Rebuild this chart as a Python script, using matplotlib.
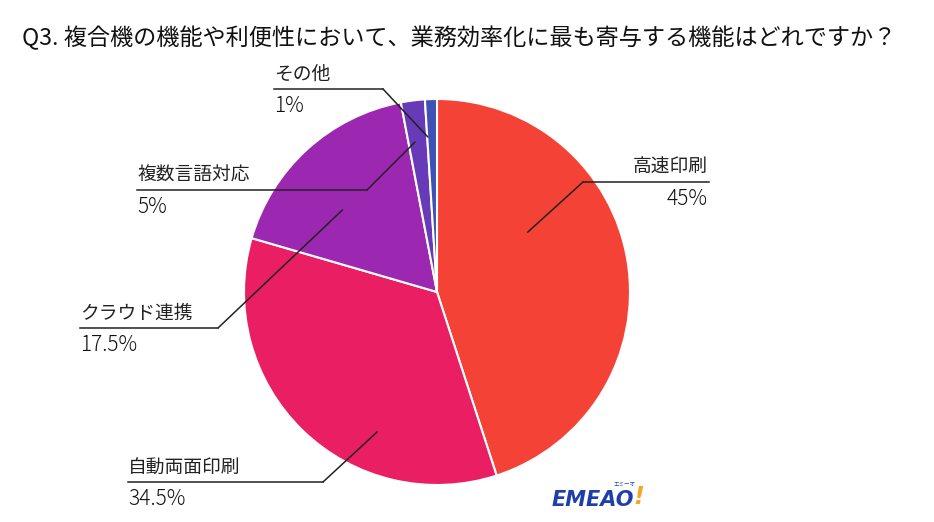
"""Pie chart: Q3 survey on the most useful multifunction-printer feature."""

import matplotlib.pyplot as plt
from matplotlib.lines import Line2D

plt.rcParams["font.family"] = ["Noto Sans CJK JP", "DejaVu Sans"]

TITLE = "Q3. 複合機の機能や利便性において、業務効率化に最も寄与する機能はどれですか？"

# slice order: clockwise from 12 o'clock
categories = ["高速印刷", "自動両面印刷", "クラウド連携", "複数言語対応", "その他"]
shares = [45, 34.5, 17.5, 2, 1]              # slice sizes as drawn
share_labels = ["45%", "34.5%", "17.5%", "5%", "1%"]  # text printed beside each label
colors = ["#f44336", "#e91e63", "#9c27b0", "#673ab7", "#3f51b5"]

W, H = 934, 522

# label layout in figure pixels (top-left origin): text x, underline y,
# underline start/end x, leader anchor inside the pie (unit radius), alignment
LAYOUT = [
    dict(x=708, y=182, x0=583, x1=709, anchor=(0.47, 0.31), ha="right"),
    dict(x=128, y=482, x0=128, x1=323, anchor=(-0.31, -0.725), ha="left"),
    dict(x=80, y=328, x0=80, x1=218, anchor=(-0.49, 0.425), ha="left"),
    dict(x=137, y=190, x0=137, x1=367, anchor=(-0.114, 0.777), ha="left"),
    dict(x=274, y=89, x0=274, x1=383, anchor=(-0.047, 0.803), ha="left"),
]


def px(x, y):
    """top-left pixel -> figure fraction"""
    return x / W, 1 - y / H


def main() -> None:
    fig = plt.figure(figsize=(W / 100, H / 100), dpi=100)
    fig.patch.set_facecolor("white")

    cx, cy, r = 437, 292, 193
    ax = fig.add_axes([(cx - r) / W, (H - cy - r) / H, 2 * r / W, 2 * r / H])
    ax.pie(
        shares,
        colors=colors,
        startangle=90,
        counterclock=False,
        radius=1,
        wedgeprops=dict(edgecolor="white", linewidth=1.5),
    )
    ax.set_xlim(-1, 1)
    ax.set_ylim(-1, 1)
    ax.set_aspect("equal")
    ax.axis("off")

    fig.text(*px(22, 38), TITLE, fontsize=16.7, va="center", ha="left", color="#111111")

    for name, pct, lay in zip(categories, share_labels, LAYOUT):
        y = lay["y"]
        # elbow is where the underline meets the leader line
        elbow_x = lay["x0"] if lay["ha"] == "right" else lay["x1"]
        fig.add_artist(
            Line2D(
                [lay["x0"] / W, lay["x1"] / W],
                [1 - y / H, 1 - y / H],
                color="#222222",
                lw=1.1,
            )
        )
        ax.annotate(
            "",
            xy=lay["anchor"],
            xycoords="data",
            xytext=px(elbow_x, y),
            textcoords="figure fraction",
            arrowprops=dict(arrowstyle="-", color="#222222", lw=1.1,
                            shrinkA=0, shrinkB=0),
            annotation_clip=False,
        )
        fig.text(*px(lay["x"], y - 4), name, fontsize=13.5, ha=lay["ha"],
                 va="bottom", color="#222222")
        fig.text(*px(lay["x"], y + 6), pct, fontsize=15, ha=lay["ha"],
                 va="top", color="#111111", fontweight="light")

    # small brand mark in the bottom-middle
    fig.text(*px(552, 500), "EMEAO", fontsize=15, fontweight="bold",
             style="italic", color="#1f3fa8", family="DejaVu Sans", va="center")
    fig.text(*px(633, 497), "!", fontsize=17, fontweight="bold",
             style="italic", color="#f5a623", family="DejaVu Sans", va="center")
    fig.text(*px(614, 484), "エミーオ", fontsize=4, color="#1f3fa8", va="center")

    fig.savefig("out.png", dpi=100)


if __name__ == "__main__":
    main()
